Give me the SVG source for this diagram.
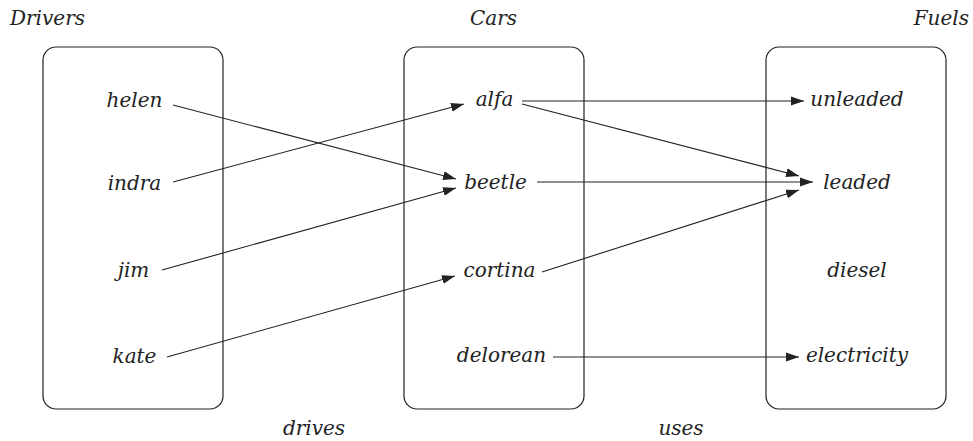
<svg xmlns="http://www.w3.org/2000/svg" width="973" height="441" viewBox="0 0 973 441">
<defs>
<style>
text{font-family:"DejaVu Serif","Liberation Serif",serif;font-style:italic;font-size:20px;fill:#222;text-anchor:middle}
.box{fill:none;stroke:#222;stroke-width:1.2}
.c line{stroke:#222;stroke-width:1.1;marker-end:url(#ah)}
</style>
<marker id="ah" markerUnits="userSpaceOnUse" markerWidth="14" markerHeight="10" refX="13" refY="5" orient="auto" viewBox="0 0 14 10">
<path d="M0,0.5 L13,5 L0,9.5 Z" fill="#222"/>
</marker>
</defs>
<rect width="973" height="441" fill="#fff"/>
<g id="titles">
<text x="10" y="25" style="text-anchor:start">Drivers</text>
<text x="493.5" y="25">Cars</text>
<text x="969" y="25" style="text-anchor:end">Fuels</text>
<text x="314" y="435">drives</text>
<text x="681" y="435">uses</text>
</g>
<g id="drivers">
<rect class="box" x="43" y="47" width="180" height="362" rx="13"/>
<text x="134.5" y="107">helen</text>
<text x="134.5" y="190">indra</text>
<text x="133.5" y="277">jim</text>
<text x="134.5" y="363">kate</text>
</g>
<g id="cars">
<rect class="box" x="404" y="47" width="180" height="362" rx="13"/>
<text x="494.5" y="106">alfa</text>
<text x="495.5" y="189">beetle</text>
<text x="499.5" y="277">cortina</text>
<text x="501.5" y="362">delorean</text>
</g>
<g id="fuels">
<rect class="box" x="766" y="47" width="180" height="362" rx="13"/>
<text x="857" y="106">unleaded</text>
<text x="857" y="189">leaded</text>
<text x="857" y="277">diesel</text>
<text x="857" y="362">electricity</text>
</g>
<g id="connectors" class="c">
<line x1="173" y1="105" x2="456" y2="179"/>
<line x1="173" y1="182" x2="464" y2="104"/>
<line x1="162" y1="270" x2="456" y2="188"/>
<line x1="167" y1="357" x2="455" y2="276"/>
<line x1="522" y1="101" x2="804" y2="101"/>
<line x1="522" y1="104" x2="799" y2="176"/>
<line x1="537" y1="182" x2="813" y2="182"/>
<line x1="542" y1="272" x2="799" y2="190"/>
<line x1="553" y1="357" x2="799" y2="357"/>
</g>
</svg>
